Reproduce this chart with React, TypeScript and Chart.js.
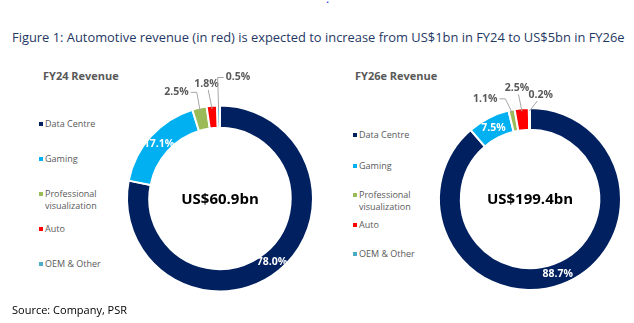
import React, { useEffect, useRef } from "react";
import { Chart, registerables } from "chart.js";

Chart.register(...registerables);

const TITLE =
  "Figure 1: Automotive revenue (in red) is expected to increase from US$1bn in FY24 to US$5bn in FY26e";
const SOURCE = "Source: Company, PSR";
const categories = ["Data Centre", "Gaming", "Professional visualization", "Auto", "OEM & Other"];
const legendLines = [["Data Centre"], ["Gaming"], ["Professional", "visualization"], ["Auto"], ["OEM & Other"]];
const fy24Share = [78.0, 17.1, 2.5, 1.8, 0.5];
const fy26Share = [88.7, 7.5, 1.1, 2.5, 0.2];
const fy24Total = 60.9;
const fy26Total = 199.4;
const panelTitles = ["FY24 Revenue", "FY26e Revenue"];
const colors = ["#002060", "#00B0F0", "#9BBB59", "#FF0000", "#4BACC6"];

const FONT = '"Open Sans", "Noto Sans", sans-serif';

// label nudges (style) relative to each small slice's outer edge
const fy24LabelNudge = [null, null, [-23.5, -18.4], [-5.5, -25], [19.3, -31]];
const fy26LabelNudge = [null, null, [-27, -14], [-5, -23], [11.2, -16]];

const donutLabels = {
  id: "donutLabels",
  afterDatasetsDraw(chart: any, _args: any, opts: any) {
    const ctx = chart.ctx;
    const meta = chart.getDatasetMeta(0);
    const values = chart.data.datasets[0].data as number[];
    ctx.save();
    ctx.textAlign = "center";
    ctx.textBaseline = "middle";
    meta.data.forEach((arc: any, i: number) => {
      const p = arc.getProps(["x", "y", "startAngle", "endAngle", "innerRadius", "outerRadius"]);
      const text = values[i].toFixed(1) + "%";
      const off = opts.offsets[i];
      ctx.font = `bold 10.5px ${FONT}`;
      if (!off) {
        const c = arc.getCenterPoint();
        ctx.fillStyle = "#ffffff";
        ctx.fillText(text, c.x, c.y);
      } else {
        const a = (p.startAngle + p.endAngle) / 2;
        const r = p.outerRadius - 3;
        const ax = p.x + Math.cos(a) * r;
        const ay = p.y + Math.sin(a) * r;
        const lx = ax + off[0];
        const ly = ay + off[1];
        const w = ctx.measureText(text).width;
        const left = lx - w / 2;
        const right = lx + w / 2;
        ctx.strokeStyle = "#A6A6A6";
        ctx.lineWidth = 1;
        ctx.beginPath();
        if (ax > right + 3) {
          ctx.moveTo(right + 2, ly);
          ctx.lineTo(right + 8, ly);
          ctx.lineTo(ax, ay);
        } else if (ax < left - 3) {
          ctx.moveTo(left - 2, ly);
          ctx.lineTo(left - 8, ly);
          ctx.lineTo(ax, ay);
        } else {
          ctx.moveTo(lx + (ax - lx) * 0.3, ly + 6);
          ctx.lineTo(ax, ay);
        }
        ctx.stroke();
        ctx.fillStyle = "#595959";
        ctx.fillText(text, lx, ly);
      }
    });
    const c0 = meta.data[0];
    ctx.font = `bold 15px ${FONT}`;
    ctx.fillStyle = "#000000";
    ctx.fillText(opts.center, c0.x, c0.y + 1);
    ctx.restore();
  },
};

function Donut(props: {
  left: number;
  values: number[];
  total: number;
  nudges: any[];
  padding: { left: number; right: number; top: number; bottom: number };
  radius: number;
}) {
  const ref = useRef<HTMLCanvasElement>(null);
  useEffect(() => {
    if (!ref.current) return;
    const chart = new Chart(ref.current, {
      type: "doughnut",
      data: {
        labels: categories,
        datasets: [
          {
            data: props.values,
            backgroundColor: colors,
            borderColor: "#ffffff",
            borderWidth: 2,
            hoverOffset: 0,
          },
        ],
      },
      options: {
        responsive: false,
        animation: false,
        radius: props.radius,
        cutout: "76%",
        rotation: 0,
        layout: { padding: props.padding },
        plugins: {
          legend: { display: false },
          tooltip: { enabled: false },
          donutLabels: { offsets: props.nudges, center: `US$${props.total.toFixed(1)}bn` },
        } as any,
      } as any,
      plugins: [donutLabels as any],
    });
    return () => chart.destroy();
  }, []);
  return (
    <canvas
      ref={ref}
      width={317}
      height={323}
      style={{ position: "absolute", left: props.left, top: 0, width: 317, height: 323 }}
    />
  );
}

function Legend(props: { x: number; ys: number[] }) {
  return (
    <>
      {legendLines.map((lines, i) => (
        <div
          key={i}
          style={{
            position: "absolute",
            left: props.x,
            top: props.ys[i] - 6,
            fontFamily: FONT,
            fontSize: 9,
            lineHeight: "12px",
            color: "#595959",
            whiteSpace: "nowrap",
          }}
        >
          <span
            style={{
              position: "absolute",
              left: 0,
              top: 4,
              width: 4,
              height: 4,
              background: colors[i],
            }}
          />
          <div style={{ marginLeft: 6 }}>
            {lines.map((l, j) => (
              <div key={j}>{l}</div>
            ))}
          </div>
        </div>
      ))}
    </>
  );
}

export default function App() {
  return (
    <div
      style={{
        position: "fixed",
        left: 0,
        top: 0,
        width: 634,
        height: 323,
        background: "#ffffff",
        overflow: "hidden",
      }}
    >
      <div
        style={{
          position: "absolute",
          left: 326,
          top: -10,
          fontFamily: FONT,
          fontSize: 12,
          color: "#2030ff",
        }}
      >
        .
      </div>
      <div
        style={{
          position: "absolute",
          left: 12,
          top: 29,
          fontFamily: FONT,
          fontSize: 12.9,
          lineHeight: "17px",
          color: "#1F3864",
          whiteSpace: "nowrap",
        }}
      >
        {TITLE}
      </div>
      <div
        style={{
          position: "absolute",
          left: 43,
          top: 68,
          fontFamily: FONT,
          fontSize: 11,
          fontWeight: "bold",
          lineHeight: "15px",
          color: "#595959",
          whiteSpace: "nowrap",
        }}
      >
        {panelTitles[0]}
      </div>
      <div
        style={{
          position: "absolute",
          left: 355,
          top: 68,
          fontFamily: FONT,
          fontSize: 11,
          fontWeight: "bold",
          lineHeight: "15px",
          color: "#595959",
          whiteSpace: "nowrap",
        }}
      >
        {panelTitles[1]}
      </div>
      <Legend x={39} ys={[124, 159, 194, 229, 264]} />
      <Legend x={353} ys={[135, 165.5, 195, 225, 254]} />
      <Donut
        left={0}
        values={fy24Share}
        total={fy24Total}
        nudges={fy24LabelNudge}
        padding={{ left: 123, right: 0, top: 74, bottom: 0 }}
        radius={93}
      />
      <Donut
        left={317}
        values={fy26Share}
        total={fy26Total}
        nudges={fy26LabelNudge}
        padding={{ left: 109, right: 0, top: 75, bottom: 0 }}
        radius={91}
      />
      <div
        style={{
          position: "absolute",
          left: 12,
          top: 302,
          fontFamily: FONT,
          fontSize: 11,
          lineHeight: "16px",
          color: "#000000",
          whiteSpace: "nowrap",
        }}
      >
        {SOURCE}
      </div>
    </div>
  );
}
